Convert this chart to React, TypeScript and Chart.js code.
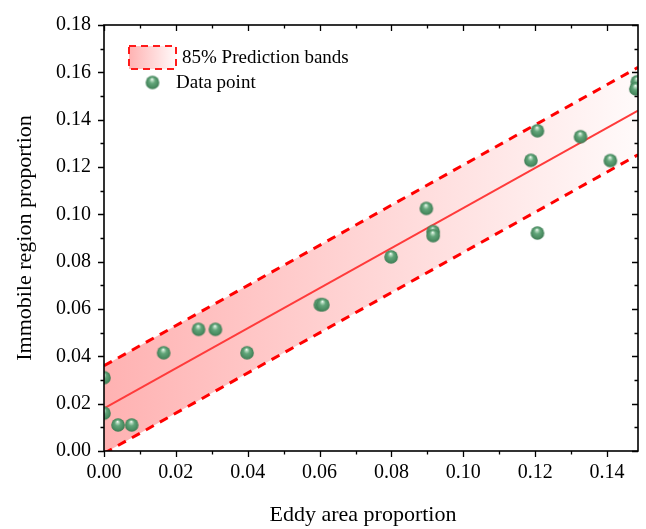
import { useEffect, useRef } from "react";
import { Chart, registerables } from "chart.js";

Chart.register(...registerables);

// Measured samples
const eddyArea = [0, 0, 0.0039, 0.0077, 0.0166, 0.0263, 0.031, 0.0398, 0.0602, 0.0609, 0.0799, 0.0897, 0.0916, 0.0916, 0.1188, 0.1206, 0.1206, 0.1326, 0.1409, 0.1484, 0.148];
const immobileRegion = [0.031, 0.016, 0.011, 0.011, 0.0415, 0.0514, 0.0514, 0.0415, 0.0618, 0.0618, 0.082, 0.1025, 0.0927, 0.091, 0.1228, 0.1353, 0.0921, 0.1328, 0.1227, 0.156, 0.153];

// Linear fit and 85% prediction bands (end points)
const fitX = [0, 0.1486];
const fitY = [0.018, 0.1438];
const upperBandY = [0.036, 0.1621];
const lowerBandY = [-0.001, 0.1252];

const xTickValues = [0, 0.02, 0.04, 0.06, 0.08, 0.1, 0.12, 0.14];
const yTickValues = [0, 0.02, 0.04, 0.06, 0.08, 0.1, 0.12, 0.14, 0.16, 0.18];

const X_MAX = 0.1486;
const Y_MAX = 0.18;
const FONT = '"Liberation Serif", "Times New Roman", serif';

function makeSphere(radius: number): HTMLCanvasElement {
  const size = Math.ceil(radius * 2 + 2);
  const c = document.createElement("canvas");
  c.width = size;
  c.height = size;
  const g = c.getContext("2d")!;
  const cx = size / 2;
  const cy = size / 2;
  const grad = g.createRadialGradient(cx - 0.5, cy - radius * 0.5, 0.2, cx, cy, radius);
  grad.addColorStop(0, "#f4fbf6");
  grad.addColorStop(0.16, "#b2d9bd");
  grad.addColorStop(0.42, "#62a57a");
  grad.addColorStop(0.8, "#4b8d62");
  grad.addColorStop(1, "#3b7a52");
  g.fillStyle = grad;
  g.beginPath();
  g.arc(cx, cy, radius, 0, Math.PI * 2);
  g.fill();
  return c;
}

function bandGradient(ctx: CanvasRenderingContext2D, left: number, right: number) {
  const g = ctx.createLinearGradient(left, 0, right, 0);
  g.addColorStop(0, "rgb(255,178,178)");
  g.addColorStop(1, "rgb(255,250,250)");
  return g;
}

const framePlugin = {
  id: "frameAndLegend",
  afterDraw(chart: any) {
    const { ctx, chartArea: a, scales } = chart;
    const xs = scales.x;
    const ys = scales.y;
    ctx.save();
    ctx.strokeStyle = "#000";
    ctx.lineWidth = 1.6;
    ctx.strokeRect(a.left, a.top, a.right - a.left, a.bottom - a.top);

    ctx.lineWidth = 1.3;
    const major = 6;
    const minor = 3.5;
    const nx = Math.floor(X_MAX / 0.01 + 1e-6);
    for (let i = 0; i <= nx; i++) {
      const px = Math.round(xs.getPixelForValue(i * 0.01)) + 0.5;
      const len = i % 2 === 0 ? major : minor;
      ctx.beginPath();
      ctx.moveTo(px, a.bottom);
      ctx.lineTo(px, a.bottom + len);
      ctx.moveTo(px, a.top);
      ctx.lineTo(px, a.top + len);
      ctx.stroke();
    }
    const ny = Math.floor(Y_MAX / 0.01 + 1e-6);
    for (let i = 0; i <= ny; i++) {
      const py = Math.round(ys.getPixelForValue(i * 0.01)) + 0.5;
      const len = i % 2 === 0 ? major : minor;
      ctx.beginPath();
      ctx.moveTo(a.left, py);
      ctx.lineTo(a.left - len, py);
      ctx.moveTo(a.right, py);
      ctx.lineTo(a.right - len, py);
      ctx.stroke();
    }

    // Axis titles
    ctx.fillStyle = "#000";
    ctx.font = `22px ${FONT}`;
    ctx.textAlign = "center";
    ctx.textBaseline = "middle";
    ctx.fillText("Eddy area proportion", 363, 515);
    ctx.save();
    ctx.translate(25, (a.top + a.bottom) / 2);
    ctx.rotate(-Math.PI / 2);
    ctx.fillText("Immobile region proportion", 0, 0);
    ctx.restore();

    // Legend
    const bandSet = chart.data.datasets[2];
    const pointSet = chart.data.datasets[0];
    ctx.fillStyle = bandGradient(ctx, 129, 176);
    ctx.fillRect(129, 46, 47, 23);
    ctx.setLineDash([7, 5]);
    ctx.strokeStyle = "#ff1a1a";
    ctx.lineWidth = 2;
    ctx.strokeRect(129, 46, 47, 23);
    ctx.setLineDash([]);
    const sphere = pointSet.pointStyle as HTMLCanvasElement;
    ctx.drawImage(sphere, 152.5 - sphere.width / 2, 82.5 - sphere.height / 2);
    ctx.fillStyle = "#000";
    ctx.font = `19px ${FONT}`;
    ctx.textAlign = "left";
    ctx.fillText(bandSet.label, 182, 58);
    ctx.fillText(pointSet.label, 176, 83);
    ctx.restore();
  },
};

export default function App() {
  const canvasRef = useRef<HTMLCanvasElement | null>(null);

  useEffect(() => {
    const canvas = canvasRef.current;
    if (!canvas) return;
    const sphere = makeSphere(6.8);

    const toPoints = (xv: number[], yv: number[]) => xv.map((x, i) => ({ x, y: yv[i] }));

    const chart = new Chart(canvas, {
      type: "scatter",
      data: {
        datasets: [
          {
            label: "Data point",
            data: toPoints(eddyArea, immobileRegion),
            pointStyle: sphere as any,
            pointRadius: 7,
            order: 0,
            clip: 0,
          } as any,
          {
            label: "Linear fit",
            data: toPoints(fitX, fitY),
            showLine: true,
            borderColor: "#ff3b3b",
            borderWidth: 2,
            pointRadius: 0,
            fill: false,
            order: 1,
          },
          {
            label: "85% Prediction bands",
            data: toPoints(fitX, upperBandY),
            showLine: true,
            borderColor: "#ff0000",
            borderWidth: 3,
            borderDash: [9, 7],
            pointRadius: 0,
            fill: "+1",
            backgroundColor: (c: any) => {
              const area = c.chart.chartArea;
              if (!area) return "rgb(255,200,200)";
              return bandGradient(c.chart.ctx, area.left, area.right);
            },
            order: 2,
          },
          {
            label: "lower band",
            data: toPoints(fitX, lowerBandY),
            showLine: true,
            borderColor: "#ff0000",
            borderWidth: 3,
            borderDash: [9, 7],
            pointRadius: 0,
            fill: false,
            order: 3,
          },
        ],
      },
      options: {
        responsive: false,
        animation: false,
        layout: { padding: { top: 17, right: 4, left: 0, bottom: 0 } },
        plugins: {
          legend: { display: false },
          tooltip: { enabled: false },
          filler: { drawTime: "beforeDatasetsDraw" },
        } as any,
        scales: {
          x: {
            type: "linear",
            min: 0,
            max: X_MAX,
            grid: { display: false, drawTicks: false },
            border: { display: false },
            afterFit: (s: any) => {
              s.height = 78;
            },
            afterBuildTicks: (s: any) => {
              s.ticks = xTickValues.map((v) => ({ value: v }));
            },
            ticks: {
              padding: 10,
              color: "#000",
              font: { family: FONT, size: 20 },
              maxRotation: 0,
              autoSkip: false,
              callback: (v: any) => Number(v).toFixed(2),
            },
          },
          y: {
            type: "linear",
            min: 0,
            max: Y_MAX,
            grid: { display: false, drawTicks: false },
            border: { display: false },
            afterFit: (s: any) => {
              s.width = 104;
            },
            afterBuildTicks: (s: any) => {
              s.ticks = yTickValues.map((v) => ({ value: v }));
            },
            ticks: {
              padding: 13,
              color: "#000",
              font: { family: FONT, size: 20 },
              autoSkip: false,
              callback: (v: any) => Number(v).toFixed(2),
            },
          },
        },
      },
      plugins: [framePlugin],
    });

    return () => chart.destroy();
  }, []);

  return (
    <div style={{ position: "fixed", left: 0, top: 0, width: 646, height: 529, background: "#fff" }}>
      <canvas ref={canvasRef} width={646} height={529} style={{ display: "block" }} />
    </div>
  );
}
